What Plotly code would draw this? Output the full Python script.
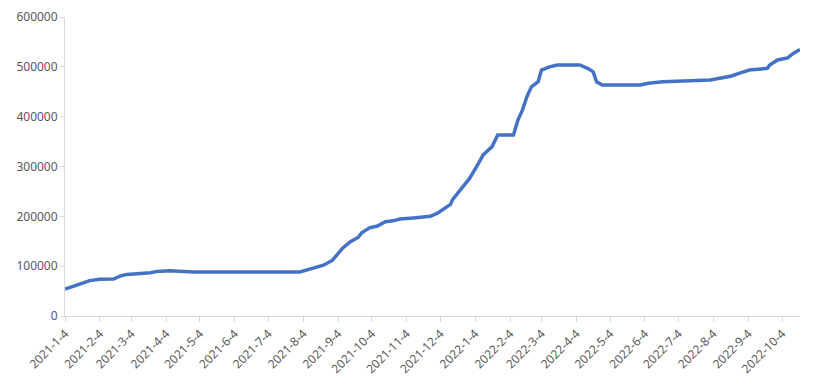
import plotly.graph_objects as go

dates = [
    "2021-01-04", "2021-01-26", "2021-02-04", "2021-02-16", "2021-02-22", "2021-02-28",
    "2021-03-21", "2021-03-27", "2021-04-07", "2021-04-23", "2021-04-28", "2021-08-01",
    "2021-08-07", "2021-08-13", "2021-08-22", "2021-08-30", "2021-09-04", "2021-09-08",
    "2021-09-15", "2021-09-22", "2021-09-25", "2021-10-02", "2021-10-09", "2021-10-16",
    "2021-10-23", "2021-10-29", "2021-11-10", "2021-11-25", "2021-12-01", "2021-12-06",
    "2021-12-13", "2021-12-15", "2021-12-23", "2021-12-30", "2022-01-06", "2022-01-11",
    "2022-01-19", "2022-01-24", "2022-02-07", "2022-02-11", "2022-02-15", "2022-02-19",
    "2022-02-23", "2022-03-01", "2022-03-04", "2022-03-11", "2022-03-18", "2022-04-07",
    "2022-04-14", "2022-04-19", "2022-04-22", "2022-04-27", "2022-05-31", "2022-06-07",
    "2022-06-20", "2022-08-01", "2022-08-12", "2022-08-20", "2022-08-28", "2022-09-05",
    "2022-09-21", "2022-09-23", "2022-09-30", "2022-10-09", "2022-10-14", "2022-10-20",
]
values = [
    54000, 71000, 73500, 74000, 80000, 83500,
    87000, 89500, 91000, 90300, 88500, 88500,
    92000, 96000, 102000, 112000, 124000, 136000,
    149000, 158000, 167000, 177000, 180600, 189000,
    191000, 194600, 196700, 200000, 206000, 214000,
    224000, 234000, 256000, 276000, 303000, 323000,
    340000, 363000, 363000, 393000, 413000, 440000,
    460000, 470000, 493600, 500000, 503700, 503700,
    497000, 490000, 470000, 463500, 463500, 467000,
    470000, 473600, 478000, 481600, 488000, 493600,
    497000, 503700, 513700, 518000, 527000, 535000,
]

tick_dates = [
    "2021-01-04", "2021-02-04", "2021-03-04", "2021-04-04", "2021-05-04", "2021-06-04",
    "2021-07-04", "2021-08-04", "2021-09-04", "2021-10-04", "2021-11-04", "2021-12-04",
    "2022-01-04", "2022-02-04", "2022-03-04", "2022-04-04", "2022-05-04", "2022-06-04",
    "2022-07-04", "2022-08-04", "2022-09-04", "2022-10-04",
]
tick_labels = [
    "2021-1-4", "2021-2-4", "2021-3-4", "2021-4-4", "2021-5-4", "2021-6-4",
    "2021-7-4", "2021-8-4", "2021-9-4", "2021-10-4", "2021-11-4", "2021-12-4",
    "2022-1-4", "2022-2-4", "2022-3-4", "2022-4-4", "2022-5-4", "2022-6-4",
    "2022-7-4", "2022-8-4", "2022-9-4", "2022-10-4",
]
y_ticks = [0, 100000, 200000, 300000, 400000, 500000, 600000]

fig = go.Figure()
fig.add_trace(go.Scatter(
    x=dates, y=values, mode="lines",
    line=dict(color="#4472C4", width=3.5),
    showlegend=False,
))

fig.update_layout(
    width=828, height=387,
    margin=dict(l=57, r=36, t=9, b=79),
    paper_bgcolor="white", plot_bgcolor="white",
    font=dict(family="Noto Sans", size=12, color="#595959"),
)
fig.update_xaxes(
    type="date", automargin=False,
    range=["2021-01-04", "2022-10-20"],
    tickmode="array", tickvals=tick_dates, ticktext=tick_labels,
    tickangle=-45,
    showgrid=False, zeroline=False,
    showline=True, linecolor="#D9D9D9", linewidth=1,
    ticks="outside", ticklen=5, tickcolor="#D9D9D9",
    tickfont=dict(size=12, color="#595959"),
)
fig.update_yaxes(
    range=[0, 600000], automargin=False,
    tickmode="array", tickvals=y_ticks, ticktext=[str(v) for v in y_ticks],
    showgrid=False, zeroline=False,
    showline=True, linecolor="#D9D9D9", linewidth=1,
    ticks="outside", ticklen=4, tickcolor="#D9D9D9",
    tickfont=dict(size=12, color="#595959"),
)

fig.write_html("out.html")
